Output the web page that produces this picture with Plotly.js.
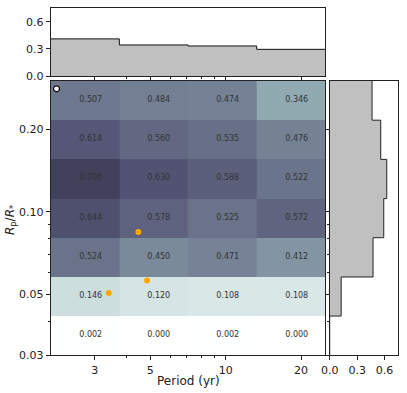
<!DOCTYPE html>
<html>
<head>
<meta charset="utf-8">
<script src="https://cdn.plot.ly/plotly-3.0.1.min.js"></script>
<style>
  body { margin: 0; background: #fff; }
  #chart { width: 407px; height: 393px; }
</style>
</head>
<body>
<div id="chart"></div>
<script>
// bin edges
var periodEdges = [2, 3.76, 7.07, 13.3, 25];
var radiusEdges = [0.03, 0.0417, 0.0579, 0.0805, 0.1118, 0.1554, 0.2159, 0.30];

// occurrence grid, rows from small radius to large
var occurrence = [
    [0.002, 0.000, 0.002, 0.000],
    [0.146, 0.120, 0.108, 0.108],
    [0.524, 0.450, 0.471, 0.412],
    [0.644, 0.578, 0.525, 0.572],
    [0.706, 0.630, 0.588, 0.522],
    [0.614, 0.560, 0.535, 0.476],
    [0.507, 0.484, 0.474, 0.346]
];

// marginal histograms
var periodHist = [0.411, 0.344, 0.333, 0.296];
var radiusHist = [0.0, 0.125, 0.474, 0.591, 0.624, 0.558, 0.463];

// detected planets
var planetPeriod = [3.41, 4.85, 4.48];
var planetRadius = [0.0506, 0.0562, 0.0845];

var refPeriod = [2.11];
var refRadius = [0.281];

// bone_r colormap
var boneR = [
    [0, 'rgb(255,255,255)'],
    [0.253968, 'rgb(166,198,198)'],
    [0.634921, 'rgb(81,81,113)'],
    [1, 'rgb(0,0,0)']
];

var topX = periodEdges.slice();
var topY = periodHist.concat([periodHist[periodHist.length - 1]]);
var rightY = radiusEdges.slice();
var rightX = radiusHist.concat([radiusHist[radiusHist.length - 1]]);

var font = 'DejaVu Sans, sans-serif';
var tickFont = {family: font, size: 11, color: '#222'};

var data = [
    {
        type: 'heatmap',
        x: periodEdges,
        y: radiusEdges,
        z: occurrence,
        zmin: 0, zmax: 1,
        colorscale: boneR,
        showscale: false,
        texttemplate: '%{z:.3f}',
        textfont: {family: font, size: 8, color: '#333'},
        hoverinfo: 'skip',
        xaxis: 'x', yaxis: 'y'
    },
    {
        type: 'scatter', mode: 'markers',
        x: planetPeriod, y: planetRadius,
        marker: {color: '#ffa500', size: 6},
        xaxis: 'x', yaxis: 'y'
    },
    {
        type: 'scatter', mode: 'markers',
        x: refPeriod, y: refRadius,
        marker: {color: '#fff', size: 6, line: {color: '#000', width: 1.2}},
        xaxis: 'x', yaxis: 'y'
    },
    {
        type: 'scatter', mode: 'lines',
        x: topX, y: topY,
        line: {shape: 'hv', color: '#111', width: 1},
        fill: 'tozeroy', fillcolor: '#c0c0c0',
        xaxis: 'x2', yaxis: 'y2'
    },
    {
        type: 'scatter', mode: 'lines',
        x: rightX, y: rightY,
        line: {shape: 'vh', color: '#222', width: 1},
        fill: 'tozerox', fillcolor: '#c0c0c0',
        xaxis: 'x3', yaxis: 'y3'
    }
];

var xRange = [Math.log10(2), Math.log10(25)];
var yRange = [Math.log10(0.03), Math.log10(0.30)];

var layout = {
    width: 407, height: 393,
    margin: {l: 0, r: 0, t: 0, b: 0},
    paper_bgcolor: '#fff', plot_bgcolor: '#fff',
    showlegend: false,
    font: {family: font, color: '#222'},
    xaxis: {
        domain: [0.1246, 0.7993], anchor: 'y',
        type: 'log', range: xRange,
        tickmode: 'array', tickvals: [3, 5, 10, 20], ticktext: ['3', '5', '10', '20'],
        ticks: 'outside', ticklen: 4, tickcolor: '#222',
        minor: {tickmode: 'array', tickvals: [4, 6, 7, 8, 9], ticks: 'outside', ticklen: 2, tickcolor: '#222'},
        showgrid: false, zeroline: false,
        showline: true, linecolor: '#222', linewidth: 1, mirror: true,
        tickfont: tickFont
    },
    yaxis: {
        domain: [0.0959, 0.7939], anchor: 'x',
        type: 'log', range: yRange,
        tickmode: 'array', tickvals: [0.03, 0.05, 0.1, 0.2], ticktext: ['0.03', '0.05', '0.10', '0.20'],
        ticks: 'outside', ticklen: 4, tickcolor: '#222',
        minor: {tickmode: 'array', tickvals: [0.04, 0.06, 0.07, 0.08, 0.09], ticks: 'outside', ticklen: 2, tickcolor: '#222'},
        showgrid: false, zeroline: false,
        showline: true, linecolor: '#222', linewidth: 1, mirror: true,
        tickfont: tickFont
    },
    xaxis2: {
        domain: [0.1246, 0.7993], anchor: 'y2',
        type: 'log', range: xRange,
        tickmode: 'array', tickvals: [3, 5, 10, 20], showticklabels: false,
        ticks: 'outside', ticklen: 4, tickcolor: '#222',
        minor: {tickmode: 'array', tickvals: [4, 6, 7, 8, 9], ticks: 'outside', ticklen: 2, tickcolor: '#222'},
        showgrid: false, zeroline: false,
        showline: true, linecolor: '#222', linewidth: 1, mirror: true
    },
    yaxis2: {
        domain: [0.8059, 0.9796], anchor: 'x2',
        range: [0, 0.75],
        tickmode: 'array', tickvals: [0, 0.3, 0.6], ticktext: ['0.0', '0.3', '0.6'],
        ticks: 'outside', ticklen: 4, tickcolor: '#222',
        showgrid: false, zeroline: false,
        showline: true, linecolor: '#222', linewidth: 1, mirror: true,
        tickfont: tickFont
    },
    xaxis3: {
        domain: [0.8101, 0.9786], anchor: 'y3',
        range: [0, 0.75],
        tickmode: 'array', tickvals: [0, 0.3, 0.6], ticktext: ['0.0', '0.3', '0.6'],
        ticks: 'outside', ticklen: 4, tickcolor: '#222',
        showgrid: false, zeroline: false,
        showline: true, linecolor: '#222', linewidth: 1, mirror: true,
        tickfont: tickFont
    },
    yaxis3: {
        domain: [0.0959, 0.7939], anchor: 'x3',
        type: 'log', range: yRange,
        tickmode: 'array', tickvals: [0.03, 0.05, 0.1, 0.2], showticklabels: false,
        ticks: 'outside', ticklen: 4, tickcolor: '#222',
        minor: {tickmode: 'array', tickvals: [0.04, 0.06, 0.07, 0.08, 0.09], ticks: 'outside', ticklen: 2, tickcolor: '#222'},
        showgrid: false, zeroline: false,
        showline: true, linecolor: '#222', linewidth: 1, mirror: true
    },
    annotations: [
        {
            text: 'Period (yr)', xref: 'paper', yref: 'paper',
            x: 0.462, y: 0.0305, xanchor: 'center', yanchor: 'middle',
            showarrow: false, font: {family: font, size: 12, color: '#222'}
        },
        {
            text: '<i>R</i><sub>p</sub>/<i>R</i><sub>*</sub>', xref: 'paper', yref: 'paper',
            x: 0.027, y: 0.44, xanchor: 'center', yanchor: 'middle', textangle: -90,
            showarrow: false, font: {family: font, size: 12, color: '#222'}
        }
    ]
};

Plotly.newPlot('chart', data, layout, {displayModeBar: false, staticPlot: true});
</script>
</body>
</html>
